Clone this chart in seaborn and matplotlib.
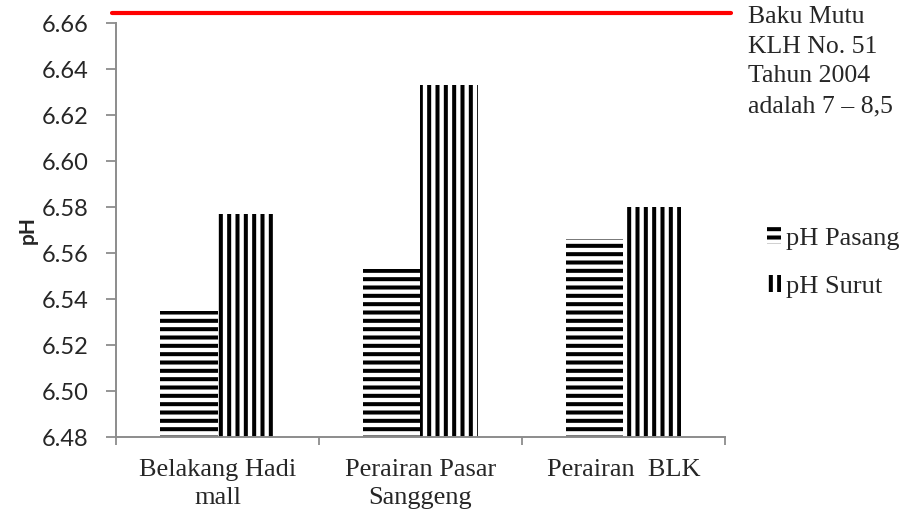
import matplotlib
matplotlib.use("Agg")
import matplotlib.pyplot as plt
import matplotlib.patches as mpatches
from matplotlib.ticker import FixedLocator, FormatStrFormatter
import seaborn as sns
import pandas as pd

# Sampling sites and pH readings at high tide (pasang) and low tide (surut)
locations = ["Belakang Hadi\nmall", "Perairan Pasar\nSanggeng", "Perairan  BLK"]
ph_pasang = [6.535, 6.553, 6.566]
ph_surut = [6.577, 6.633, 6.580]
series_names = ["pH Pasang", "pH Surut"]
y_ticks = [6.48, 6.50, 6.52, 6.54, 6.56, 6.58, 6.60, 6.62, 6.64, 6.66]
baku_mutu_line = 6.6645
baku_mutu_text = "Baku Mutu\nKLH No. 51\nTahun 2004\nadalah 7 \u2013 8,5"

df = pd.DataFrame({
    "Lokasi": locations * 2,
    "pH": ph_pasang + ph_surut,
    "Seri": [series_names[0]] * 3 + [series_names[1]] * 3,
})

sns.set_style("white")
plt.rcParams["hatch.linewidth"] = 2.9
plt.rcParams["hatch.color"] = "black"

fig = plt.figure(figsize=(9.14, 5.15), dpi=100)
ax = fig.add_axes([0.127, 0.151, 0.666, 0.804])

sns.barplot(data=df, x="Lokasi", y="pH", hue="Seri", hue_order=series_names,
            palette=["white", "white"], width=0.57, edgecolor="black",
            linewidth=0, ax=ax, legend=False)

hatches = ["--", "||"]
for container, h in zip(ax.containers, hatches):
    for bar in container:
        bar.set_hatch(h)
        bar.set_edgecolor("black")
        bar.set_linewidth(0)

ax.set_ylim(y_ticks[0], y_ticks[-1])
ax.set_xlim(-0.5, len(locations) - 0.5)
ax.yaxis.set_major_locator(FixedLocator(y_ticks))
ax.yaxis.set_major_formatter(FormatStrFormatter("%.2f"))

# Category boundaries carry the tick marks; labels sit centered in each slot
ax.set_xticks(range(len(locations)))
ax.set_xticklabels(locations, family="Liberation Serif", fontsize=19,
                   linespacing=1.3)
ax.xaxis.set_minor_locator(FixedLocator([i - 0.5 for i in range(len(locations) + 1)]))
ax.tick_params(axis="x", which="both", bottom=True)
ax.tick_params(axis="y", which="both", left=True)
ax.tick_params(axis="x", which="major", length=0, pad=16)
ax.tick_params(axis="x", which="minor", length=6, width=1.3, color="#8c8c8c",
               direction="out")
ax.tick_params(axis="y", which="major", length=7, width=1.3, color="#8c8c8c",
               direction="out", labelsize=17, pad=13)
for lbl in ax.get_yticklabels():
    lbl.set_family("Lato")

for side in ["top", "right"]:
    ax.spines[side].set_visible(False)
for side in ["left", "bottom"]:
    ax.spines[side].set_color("#8c8c8c")
    ax.spines[side].set_linewidth(1.4)

ax.set_xlabel("")
ax.set_ylabel("pH", family="Lato", fontweight="bold", fontsize=15, labelpad=3)

# Reference line for the quality standard
ax.axhline(baku_mutu_line, xmin=-0.006, xmax=1.011, color="red", linewidth=3,
           clip_on=False)

fig.text(0.818, 0.988, baku_mutu_text, family="Liberation Serif", fontsize=18.5,
         va="top", ha="left", linespacing=1.45)

handles = [mpatches.Patch(facecolor="white", edgecolor="black", linewidth=0,
                          hatch=h, label=n) for h, n in zip(hatches, series_names)]
fig.legend(handles=handles, loc="center left", bbox_to_anchor=(0.828, 0.49),
           frameon=False, prop={"family": "Liberation Serif", "size": 19},
           handlelength=0.5, handleheight=0.6, handletextpad=0.2,
           labelspacing=0.95, borderaxespad=0)

fig.savefig("out.png", dpi=100)
